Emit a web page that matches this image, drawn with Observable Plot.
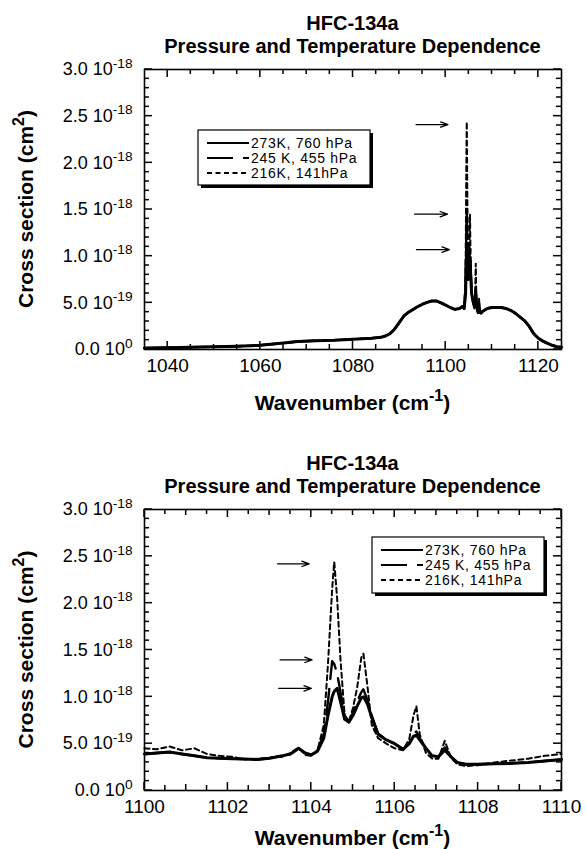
<!DOCTYPE html>
<html><head><meta charset="utf-8">
<script src="https://cdn.jsdelivr.net/npm/d3@7"></script>
<script src="https://cdn.jsdelivr.net/npm/@observablehq/plot@0.6"></script>
<style>
html,body{margin:0;padding:0;background:#fff;}
#chart{width:586px;height:849px;overflow:hidden;}
#chart svg{display:block;}
</style></head><body><div id="chart"></div>
<script>
// ---------------- DATA ----------------
const chartTitle1 = "HFC-134a";
const chartTitle2 = "Pressure and Temperature Dependence";
const xTitle = "Wavenumber (cm^{-1})";
const yTitle = "Cross section (cm^{2})";
const seriesLabels = ["273K, 760 hPa", "245 K, 455 hPa", "216K, 141hPa"];

// y values are in units of 1e-19 cm^2
const yMajorTicks = [0, 5, 10, 15, 20, 25, 30];
const yTickLabels = ["0.0 10^{0}", "5.0 10^{-19}", "1.0 10^{-18}", "1.5 10^{-18}", "2.0 10^{-18}", "2.5 10^{-18}", "3.0 10^{-18}"];
const yMinorTicks = [1,2,3,4,6,7,8,9,11,12,13,14,16,17,18,19,21,22,23,24,26,27,28,29];

// top panel (wide range)
const topXDomain = [1035, 1125];
const topXMajorTicks = [1040, 1060, 1080, 1100, 1120];
const topXMinorTicks = [1045,1050,1055,1065,1070,1075,1085,1090,1095,1105,1110,1115];
const topWnLow = [1035,1040,1045,1050,1055,1060,1065,1068,1072,1076,1080,1082,1084,1086,1087,1088,1089,1090,1091,1092,1093,1094,1095,1096,1097,1098,1099,1100,1101,1102,1103];
const topValLow = [0.15,0.2,0.25,0.3,0.35,0.45,0.7,0.85,0.95,1.0,1.1,1.15,1.2,1.3,1.45,1.7,2.2,2.9,3.6,4.0,4.3,4.6,4.85,5.05,5.2,5.2,5.0,4.75,4.5,4.3,4.4];
const topWnPeak = [1103.6,1104.0,1104.3,1104.45,1104.55,1104.65,1104.8,1104.95,1105.1,1105.25,1105.4,1105.6,1105.9,1106.2,1106.4,1106.5,1106.6,1106.8,1107.0,1107.2,1107.35];
const top273Peak = [4.6,4.4,6.0,9.5,10.8,10.2,7.5,7.6,9.0,9.9,8.0,6.0,5.2,4.6,5.6,6.2,5.2,4.3,4.0,4.8,4.0];
const top245Peak = [4.6,4.4,6.5,12.5,14.8,12.0,8.0,7.8,9.5,10.8,8.5,6.2,5.3,4.6,5.8,6.5,5.3,4.3,4.0,5.0,4.0];
const top216Peak = [4.6,4.3,8.0,19.0,24.4,18.0,8.5,8.0,11.0,14.5,9.0,6.0,5.0,4.4,7.0,9.2,6.0,4.2,3.9,5.5,3.9];
const topWnHigh = [1107.6,1108,1109,1110,1111,1112,1113,1114,1115,1116,1117,1118,1119,1120,1121,1122,1123,1124,1125];
const topValHigh = [3.9,4.1,4.4,4.5,4.5,4.5,4.4,4.2,3.9,3.5,3.1,2.5,1.7,1.2,0.9,0.65,0.45,0.3,0.25];
const topArrowX1 = [1093.6, 1093.3, 1093.7];
const topArrowX2 = [1100.5, 1100.4, 1100.8];
const topArrowY = [24.1, 14.5, 10.7];

// bottom panel (zoom on the Q branch)
const botXDomain = [1100, 1110];
const botXMajorTicks = [1100, 1102, 1104, 1106, 1108, 1110];
const botXMidTicks = [1101, 1103, 1105, 1107, 1109];
const botXMinorTicks = [1100.5,1101.5,1102.5,1103.5,1104.5,1105.5,1106.5,1107.5,1108.5,1109.5];
const botWn = [1100,1100.3,1100.6,1100.9,1101.2,1101.5,1101.8,1102.1,1102.4,1102.7,1103.0,1103.3,1103.5,1103.7,1103.85,1104.0,1104.15,1104.3,1104.4,1104.5,1104.55,1104.62,1104.7,1104.8,1104.9,1105.0,1105.1,1105.2,1105.25,1105.35,1105.45,1105.6,1105.8,1106.0,1106.2,1106.35,1106.45,1106.52,1106.6,1106.75,1106.9,1107.05,1107.2,1107.35,1107.5,1107.7,1108.0,1108.4,1108.8,1109.2,1109.6,1110];
const bot273 = [3.9,4.0,4.1,3.9,3.7,3.5,3.45,3.4,3.35,3.3,3.45,3.7,3.9,4.5,4.0,3.8,4.2,5.6,8.0,10.0,10.6,10.9,9.5,7.6,7.3,8.0,9.0,9.9,10.0,9.2,7.8,6.0,5.4,5.0,4.4,5.0,5.8,5.9,5.4,4.5,3.7,3.6,4.3,3.6,3.0,2.8,2.8,2.85,2.9,3.0,3.15,3.3];
const bot245 = [3.9,4.0,4.1,3.9,3.7,3.5,3.45,3.4,3.35,3.3,3.45,3.7,3.9,4.5,4.0,3.8,4.3,6.0,9.5,13.8,13.5,12.5,10.5,8.0,7.3,8.3,9.5,10.5,10.8,9.6,8.0,6.1,5.4,5.0,4.4,5.1,6.1,6.3,5.6,4.5,3.7,3.6,4.6,3.6,3.0,2.8,2.8,2.85,2.9,3.0,3.15,3.3];
const bot216 = [4.5,4.4,4.7,4.3,4.5,3.9,3.7,3.6,3.3,3.4,3.5,3.6,4.0,4.6,3.8,3.7,4.3,7.0,13.5,21.5,24.4,20.5,14.0,8.0,7.4,8.8,11.0,14.2,14.6,11.0,7.0,5.6,5.0,4.5,4.3,5.5,8.0,9.0,6.0,4.0,3.4,3.4,5.3,3.5,2.8,2.6,2.7,3.0,3.2,3.4,3.7,3.9];
const botArrowX1 = [1103.19, 1103.25, 1103.22];
const botArrowX2 = [1103.95, 1104.02, 1104.0];
const botArrowY = [24.2, 13.95, 10.9];

// ---------------- STYLE ----------------
const FONT = "'Liberation Sans', Arial, Helvetica, sans-serif";
const dashes = [null, "26,10", "5,3.5"];
const SVGNS = "http://www.w3.org/2000/svg";

function toRows(wn, vals) { return wn.map((w, i) => ({wn: w, v: vals[i]})); }
function arrows(x1, x2, y) { return y.map((yy, i) => ({x1: x1[i], x2: x2[i], y: yy})); }

function supify(root) {
  root.querySelectorAll("text").forEach(t => {
    const kids = t.querySelectorAll("tspan");
    const targets = kids.length ? [...kids] : [t];
    targets.forEach(el => {
      const s = el.textContent;
      if (!s.includes("^{")) return;
      const fs = parseFloat(getComputedStyle(el).fontSize) || 16;
      const raise = fs * 0.42;
      el.textContent = "";
      const parts = s.split(/(\^\{[^}]*\})/).filter(p => p);
      let raised = false;
      parts.forEach(p => {
        const ts = document.createElementNS(SVGNS, "tspan");
        if (p.startsWith("^{")) {
          ts.textContent = p.slice(2, -1);
          ts.setAttribute("font-size", (fs * 0.76) + "px");
          ts.setAttribute("dy", -raise);
          raised = true;
        } else {
          ts.textContent = p;
          if (raised) { ts.setAttribute("dy", raise); raised = false; }
        }
        el.appendChild(ts);
      });
    });
  });
}

function panel(cfg) {
  const W = 586, mL = 144, mR = 25;
  const pw = W - mL - mR, ph = cfg.height - cfg.mT - cfg.mB;
  const ylab = new Map(yMajorTicks.map((d, i) => [d, yTickLabels[i]]));
  const series = cfg.series;
  const lineMarks = [2, 1, 0].map(k => Plot.line(series[k], {
    x: "wn", y: "v", stroke: "black", strokeWidth: cfg.widths[k],
    strokeDasharray: dashes[k] || undefined, strokeLinejoin: "round"
  }));
  // inward tick marks on all four sides: short rect marks positioned through Plot's scales
  const xu = (cfg.xDomain[1] - cfg.xDomain[0]) / pw, yu = 30 / ph;
  const TW = 1.5;
  const tickMarks = [];
  const ax = (ticks, len) => {
    tickMarks.push(Plot.rect(ticks, {x1: d => d - TW / 2 * xu, x2: d => d + TW / 2 * xu, y1: 0, y2: len * yu, fill: "black"}));
    tickMarks.push(Plot.rect(ticks, {x1: d => d - TW / 2 * xu, x2: d => d + TW / 2 * xu, y1: 30 - len * yu, y2: 30, fill: "black"}));
  };
  const ay = (ticks, len) => {
    tickMarks.push(Plot.rect(ticks, {y1: d => d - TW / 2 * yu, y2: d => d + TW / 2 * yu, x1: cfg.xDomain[0], x2: cfg.xDomain[0] + len * xu, fill: "black"}));
    tickMarks.push(Plot.rect(ticks, {y1: d => d - TW / 2 * yu, y2: d => d + TW / 2 * yu, x1: cfg.xDomain[1] - len * xu, x2: cfg.xDomain[1], fill: "black"}));
  };
  ax(cfg.xMinor, 5); ax(cfg.xMajor, 8); if (cfg.xMid) ax(cfg.xMid, 6);
  ay(yMinorTicks, 5); ay(yMajorTicks, 8);
  const svg = Plot.plot({
    width: W, height: cfg.height,
    marginTop: cfg.mT, marginBottom: cfg.mB, marginLeft: mL, marginRight: mR,
    style: {fontFamily: FONT, background: "white", color: "black", overflow: "visible"},
    x: {domain: cfg.xDomain},
    y: {domain: [0, 30]},
    marks: [
      ...lineMarks,
      Plot.arrow(cfg.arrows, {x1: "x1", x2: "x2", y1: "y", y2: "y", stroke: "black", strokeWidth: 1.3, headLength: 9, headAngle: 40}),
      ...tickMarks,
      Plot.frame({stroke: "black", strokeWidth: 1.6}),
      Plot.axisX({anchor: "bottom", ticks: cfg.xMajor, tickFormat: d => String(d), tickSize: 0, tickPadding: 9, fontSize: 19, label: null}),
      Plot.axisY({anchor: "left", ticks: yMajorTicks, tickFormat: d => ylab.get(d), tickSize: 0, tickPadding: 12, fontSize: 18, label: null})
    ]
  });
  const s = d3.select(svg);
  const cx = mL + pw / 2;
  const txt = () => s.append("text").attr("font-family", FONT).attr("fill", "black");
  txt().attr("x", cx).attr("y", cfg.mT - 39).attr("text-anchor", "middle")
    .attr("font-weight", "bold").attr("font-size", 20).text(chartTitle1);
  txt().attr("x", cx).attr("y", cfg.mT - 16).attr("text-anchor", "middle")
    .attr("font-weight", "bold").attr("font-size", 20).text(chartTitle2);
  txt().attr("x", cx).attr("y", cfg.mT + ph + cfg.xTitleGap).attr("text-anchor", "middle")
    .attr("font-weight", "bold").attr("font-size", 21).text(xTitle);
  txt().attr("transform", `translate(33,${cfg.mT + ph / 2}) rotate(-90)`).attr("text-anchor", "middle")
    .attr("font-weight", "bold").attr("font-size", 21).text(yTitle);
  // legend
  const L = cfg.legend;
  const g = s.append("g");
  g.append("rect").attr("x", L.x + 3).attr("y", L.y + 3).attr("width", L.w).attr("height", L.h).attr("fill", "black");
  g.append("rect").attr("x", L.x).attr("y", L.y).attr("width", L.w).attr("height", L.h).attr("fill", "white").attr("stroke", "black").attr("stroke-width", 1.2);
  seriesLabels.forEach((lab, i) => {
    const yy = L.y + L.row0 + i * L.dy;
    g.append("line").attr("x1", L.x + 9).attr("x2", L.x + 51).attr("y1", yy).attr("y2", yy)
      .attr("stroke", "black").attr("stroke-width", 2).attr("stroke-dasharray", dashes[i]);
    g.append("text").attr("x", L.x + 53).attr("y", yy).attr("dy", "0.36em").attr("text-anchor", "start")
      .attr("font-family", FONT).attr("font-size", 14).attr("letter-spacing", "0.7px")
      .attr("fill", "black").text(lab);
  });
  return svg;
}

const topSeries = [top273Peak, top245Peak, top216Peak].map(pk =>
  toRows(topWnLow.concat(topWnPeak, topWnHigh), topValLow.concat(pk, topValHigh)));
const botSeries = [bot273, bot245, bot216].map(v => toRows(botWn, v));

const topSvg = panel({
  height: 430, mT: 69, mB: 81, xDomain: topXDomain,
  xMajor: topXMajorTicks, xMinor: topXMinorTicks,
  series: topSeries, widths: [3.0, 2.4, 2.0],
  arrows: arrows(topArrowX1, topArrowX2, topArrowY),
  xTitleGap: 61,
  legend: {x: 198, y: 130, w: 172, h: 55, row0: 13, dy: 15}
});
const botSvg = panel({
  height: 419, mT: 79, mB: 59, xDomain: botXDomain,
  xMajor: botXMajorTicks, xMid: botXMidTicks, xMinor: botXMinorTicks,
  series: botSeries, widths: [3.0, 2.4, 2.0],
  arrows: arrows(botArrowX1, botArrowX2, botArrowY),
  xTitleGap: 55,
  legend: {x: 372, y: 537 - 430, w: 172, h: 56, row0: 13, dy: 15}
});
const host = document.getElementById("chart");
host.appendChild(topSvg);
host.appendChild(botSvg);
supify(host);
</script>
</body></html>
